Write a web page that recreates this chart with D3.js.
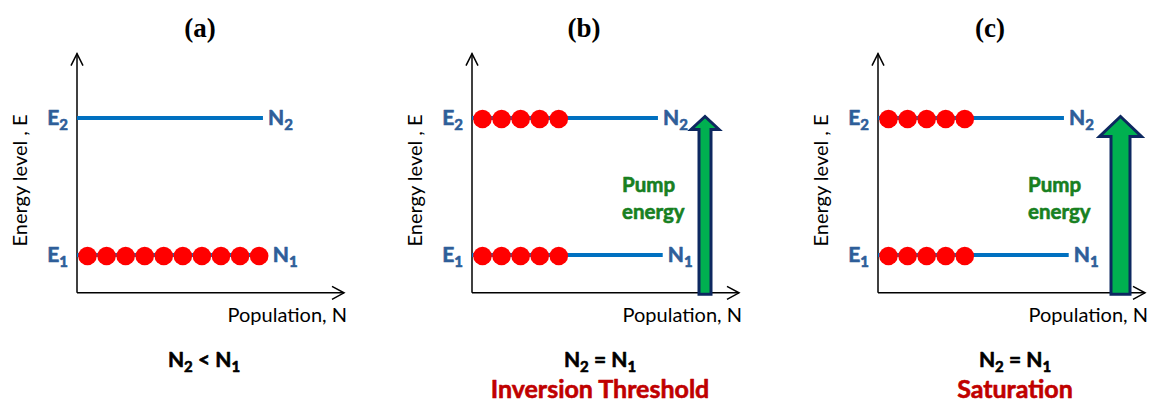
<!DOCTYPE html>
<html>
<head>
<meta charset="utf-8">
<script src="https://cdn.jsdelivr.net/npm/d3@7"></script>
<style>
  html, body { margin: 0; padding: 0; background: #fff; }
  svg { display: block; }
  .heavy { paint-order: stroke; stroke-linejoin: round; }
</style>
</head>
<body>
<svg id="chart" width="1158" height="403"></svg>
<script>
// ---------------- DATA ----------------
const panelTitles = ["(a)", "(b)", "(c)"];
const levelNames = ["E1", "E2"];          // energy levels
const levelEnergy = [1, 2];               // relative energy
const popNames = ["N1", "N2"];
const dotsE1 = [10, 5, 5];                // atoms on E1 per panel
const dotsE2 = [0, 5, 5];                 // atoms on E2 per panel
const pumpLevel = [0, 1, 1.6];            // relative pump strength
const relation = ["<", "=", "="];          // N2 ? N1
const statusText = ["", "Inversion Threshold", "Saturation"];
const axisLabels = { x: "Population, N", y: "Energy level , E" };
const pumpText = ["Pump", "energy"];

// ---------------- LAYOUT ----------------
const originX = [77, 472, 878];
const titleCx = [200, 584, 990];
const captionCx = [204, 600, 1015];
const arrowCx = [0, 705, 1120.5];
const lineEndUnits = { E1: 10, E2: 9.75 };

const colors = {
  level: "#0070C0",
  label: "#2E5E99",
  dot: "#FF0000",
  pumpFill: "#00B050",
  pumpStroke: "#0D2860",
  pumpText: "#17801F",
  status: "#C00000",
  axis: "#000000"
};
const sansFont = "Lato, 'Open Sans', sans-serif";

const svg = d3.select("#chart");
const y = d3.scaleLinear().domain([1, 2]).range([255, 118]);
const axisMinE = 0.724, axisMaxE = 2.47;
const shaftW = d3.scaleLinear().domain([1, 1.6]).range([12, 19]);
const headW = d3.scaleLinear().domain([1, 1.6]).range([28, 42]);
const headH = d3.scaleLinear().domain([1, 1.6]).range([13, 20]);

function boldText(sel, color, size) {
  return sel.attr("class", "heavy")
    .style("font-family", sansFont).style("font-weight", "bold")
    .style("font-size", size + "px").style("fill", color)
    .style("stroke", color).style("stroke-width", 0.6);
}

panelTitles.forEach((title, p) => {
  const x0 = originX[p];
  const x = d3.scaleLinear().domain([0, 14]).range([x0, x0 + 267]);
  const g = svg.append("g");

  // Title
  g.append("text")
    .attr("x", titleCx[p]).attr("y", 37)
    .attr("text-anchor", "middle")
    .style("font-family", "'Liberation Serif', 'Times New Roman', serif")
    .style("font-weight", "bold").style("font-size", "27px")
    .text(title);

  // Axes (arrows)
  const yTop = y(axisMaxE), yBot = y(axisMinE), xEnd = x(14);
  g.append("line").attr("x1", x0).attr("x2", x0).attr("y1", yBot).attr("y2", yTop)
    .attr("stroke", colors.axis).attr("stroke-width", 1.5);
  g.append("line").attr("x1", x0).attr("x2", xEnd).attr("y1", yBot).attr("y2", yBot)
    .attr("stroke", colors.axis).attr("stroke-width", 1.5);
  g.append("path")
    .attr("d", `M${x0 - 6},${yTop + 12} L${x0},${yTop} L${x0 + 6},${yTop + 12}`)
    .attr("fill", "none").attr("stroke", colors.axis).attr("stroke-width", 1.5);
  g.append("path")
    .attr("d", `M${xEnd - 12},${yBot - 6.5} L${xEnd},${yBot} L${xEnd - 12},${yBot + 6.5}`)
    .attr("fill", "none").attr("stroke", colors.axis).attr("stroke-width", 1.5);

  // Axis labels
  g.append("text")
    .attr("x", xEnd + 3).attr("y", yBot + 29)
    .attr("text-anchor", "end")
    .style("font-family", sansFont).style("font-size", "20px").style("fill", "#000")
    .text(axisLabels.x);
  g.append("text")
    .attr("transform", `translate(${x0 - 50},${(y(2) + y(1)) / 2 - 6}) rotate(-90)`)
    .attr("text-anchor", "middle")
    .style("font-family", sansFont).style("font-size", "20px").style("fill", "#000")
    .text(axisLabels.y);

  // Energy levels
  levelNames.forEach((ln, i) => {
    const ly = y(levelEnergy[i]);
    const endU = lineEndUnits[ln];
    g.append("line")
      .attr("x1", x0).attr("x2", x(endU)).attr("y1", ly).attr("y2", ly)
      .attr("stroke", colors.level).attr("stroke-width", 4);

    const el = boldText(g.append("text"), colors.label, 21)
      .attr("x", x0 - 9).attr("y", ly + 7)
      .attr("text-anchor", "end");
    el.append("tspan").text(ln[0]);
    el.append("tspan").attr("dy", 5).style("font-size", "15px").text(ln.slice(1));

    const nl = boldText(g.append("text"), colors.label, 21)
      .attr("x", x(endU) + 5).attr("y", ly + 7);
    nl.append("tspan").text(popNames[i][0]);
    nl.append("tspan").attr("dy", 5).style("font-size", "15px").text(popNames[i].slice(1));

    // Atoms
    const count = i === 0 ? dotsE1[p] : dotsE2[p];
    g.selectAll(null).data(d3.range(count)).enter().append("circle")
      .attr("cx", d => x(d + 0.55))
      .attr("cy", ly + 1)
      .attr("r", 9.3)
      .attr("fill", colors.dot);
  });

  // Pump arrow
  if (pumpLevel[p] > 0) {
    const pl = pumpLevel[p];
    const cx = arrowCx[p];
    const s = shaftW(pl) / 2, h = headW(pl) / 2, hh = headH(pl);
    const tip = y(2) - 1.5, bottom = yBot + 1.5;
    const pts = [
      [cx - s, bottom], [cx - s, tip + hh], [cx - h, tip + hh], [cx, tip],
      [cx + h, tip + hh], [cx + s, tip + hh], [cx + s, bottom]
    ];
    g.append("path")
      .attr("d", d3.line()(pts) + "Z")
      .attr("fill", colors.pumpFill)
      .attr("stroke", colors.pumpStroke).attr("stroke-width", 3)
      .attr("stroke-linejoin", "miter");

    pumpText.forEach((t, k) => {
      boldText(g.append("text"), colors.pumpText, 20.5)
        .attr("x", x0 + 150).attr("y", 192 + k * 27)
        .text(t);
    });
  }

  // Caption relation
  const rel = boldText(g.append("text"), "#000", 21)
    .attr("x", captionCx[p]).attr("y", 367)
    .attr("text-anchor", "middle");
  rel.append("tspan").text("N");
  rel.append("tspan").attr("dy", 5).style("font-size", "15px").text("2");
  rel.append("tspan").attr("dy", -5).text(" " + relation[p] + " N");
  rel.append("tspan").attr("dy", 5).style("font-size", "15px").text("1");

  if (statusText[p]) {
    boldText(g.append("text"), colors.status, 25)
      .attr("x", captionCx[p]).attr("y", 398)
      .attr("text-anchor", "middle")
      .text(statusText[p]);
  }
});
</script>
</body>
</html>
